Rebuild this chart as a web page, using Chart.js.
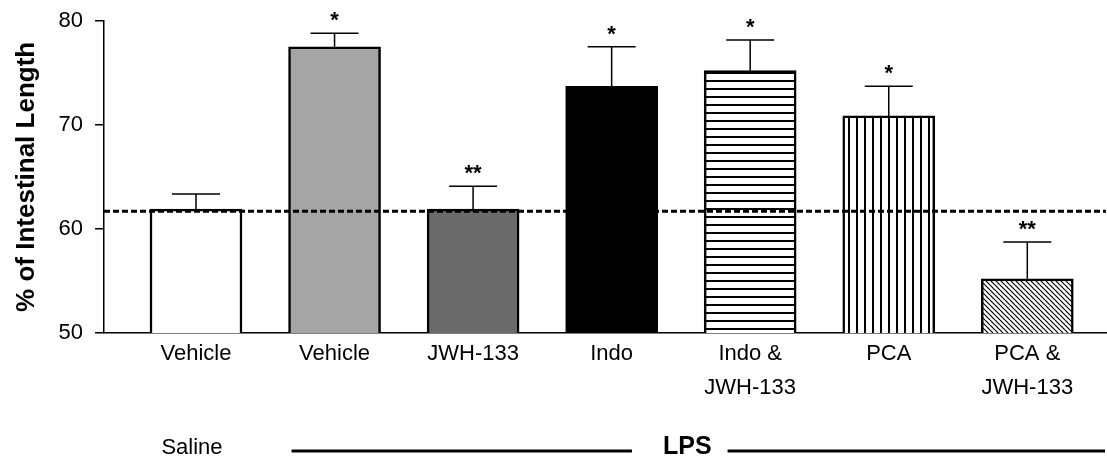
<!DOCTYPE html>
<html><head><meta charset="utf-8">
<script src="https://cdn.jsdelivr.net/npm/chart.js@4.4.0/dist/chart.umd.min.js"></script>
<style>html,body{margin:0;padding:0;background:#fff;} canvas{display:block;}</style>
</head><body>
<canvas id="c" width="1107" height="456"></canvas>
<script>
// ---- data ----
const categoryLines = [['Vehicle'], ['Vehicle'], ['JWH-133'], ['Indo'], ['Indo &', 'JWH-133'], ['PCA'], ['PCA &', 'JWH-133']];
const meanValues = [61.9, 77.5, 61.9, 73.7, 75.2, 70.85, 55.2];
const semValues = [1.45, 1.3, 2.2, 3.8, 2.95, 2.85, 3.55];
const significance = ['', '*', '**', '*', '*', '*', '**'];
const referenceLevel = [61.7];
const yTicks = [50, 60, 70, 80];
const groupLabels = ['Saline', 'LPS'];
const yTitle = '% of Intestinal Length';

const FONT = "'Liberation Sans', Arial, Helvetica, sans-serif";
Chart.defaults.color = '#000';
Chart.defaults.font.family = FONT;

function makePattern(kind) {
  const c = document.createElement('canvas');
  const ctx = c.getContext('2d');
  if (kind === 'h') {
    c.width = 8; c.height = 8;
    ctx.fillStyle = '#fff'; ctx.fillRect(0, 0, 8, 8);
    ctx.fillStyle = '#000'; ctx.fillRect(0, 0, 8, 2);
  } else if (kind === 'v') {
    c.width = 8; c.height = 8;
    ctx.fillStyle = '#fff'; ctx.fillRect(0, 0, 8, 8);
    ctx.fillStyle = '#000'; ctx.fillRect(0, 0, 2, 8);
  } else {
    const s = 5;
    c.width = s; c.height = s;
    ctx.fillStyle = '#fff'; ctx.fillRect(0, 0, s, s);
    ctx.strokeStyle = '#000'; ctx.lineWidth = 1.2;
    for (let k = -1; k <= 1; k++) {
      ctx.beginPath(); ctx.moveTo(0, k * s); ctx.lineTo(s, s + k * s); ctx.stroke();
    }
  }
  return c.getContext('2d').createPattern(c, 'repeat');
}
const fills = ['#ffffff', '#a5a5a5', '#6a6a6a', '#000000', makePattern('h'), makePattern('v'), makePattern('d')];

const overlay = {
  id: 'overlay',
  afterDatasetsDraw(chart) {
    const {ctx, chartArea, scales: {x, y}} = chart;
    ctx.save();
    // reference dashed line
    ctx.strokeStyle = '#000'; ctx.lineWidth = 3; ctx.setLineDash([6, 3]);
    const ry = y.getPixelForValue(referenceLevel[0]);
    ctx.beginPath(); ctx.moveTo(chartArea.left, ry); ctx.lineTo(chartArea.right, ry); ctx.stroke();
    ctx.setLineDash([]);
    // error bars + significance
    ctx.lineWidth = 1.5;
    ctx.font = 'bold 22px ' + FONT; ctx.textAlign = 'center'; ctx.textBaseline = 'alphabetic'; ctx.fillStyle = '#000';
    meanValues.forEach((m, i) => {
      const px = x.getPixelForValue(i);
      const yb = y.getPixelForValue(m);
      const yt = y.getPixelForValue(m + semValues[i]);
      ctx.beginPath(); ctx.moveTo(px, yb); ctx.lineTo(px, yt);
      ctx.moveTo(px - 24, yt); ctx.lineTo(px + 24, yt); ctx.stroke();
      if (significance[i]) ctx.fillText(significance[i], px, yt - 6);
    });
    ctx.restore();
  },
  afterDraw(chart) {
    const {ctx, chartArea, scales: {x}} = chart;
    ctx.save();
    ctx.fillStyle = '#000'; ctx.strokeStyle = '#000';
    ctx.textBaseline = 'alphabetic'; ctx.textAlign = 'center';
    ctx.font = '22px ' + FONT;
    ctx.fillText(groupLabels[0], x.getPixelForValue(0) - 4, 454);
    const start = x.getPixelForValue(1) - 43;
    const end = chartArea.right - 1;
    const cx = (start + end) / 2 - 11;
    ctx.font = 'bold 25px ' + FONT;
    const w = ctx.measureText(groupLabels[1]).width;
    ctx.fillText(groupLabels[1], cx, 454);
    ctx.lineWidth = 3;
    ctx.beginPath();
    ctx.moveTo(start, 451); ctx.lineTo(cx - w / 2 - 31, 451);
    ctx.moveTo(cx + w / 2 + 16, 451); ctx.lineTo(end, 451);
    ctx.stroke();
    ctx.restore();
  }
};

new Chart(document.getElementById('c'), {
  type: 'bar',
  data: {
    datasets: [{
      data: meanValues.map((v, i) => ({x: i, y: v})),
      backgroundColor: fills,
      borderColor: '#000',
      borderWidth: 2.5,
      barThickness: 92
    }]
  },
  options: {
    responsive: false,
    animation: false,
    devicePixelRatio: 1,
    layout: {padding: {top: 20.7, right: 1, bottom: 0, left: 0}},
    plugins: {legend: {display: false}, tooltip: {enabled: false}},
    scales: {
      x: {
        type: 'linear',
        offset: false,
        min: -0.664, max: 6.568,
        grid: {display: false, drawTicks: false, offset: false},
        border: {display: true, color: '#000', width: 1.5},
        afterBuildTicks: s => { s.ticks = categoryLines.map((_, i) => ({value: i})); },
        afterFit: s => { s.height = 123; s.paddingLeft = 0; s.paddingRight = 0; },
        ticks: {
          autoSkip: false, maxRotation: 0, padding: 4,
          font: {size: 22, lineHeight: 1.55},
          callback: v => categoryLines[v] || ''
        }
      },
      y: {
        min: 50, max: 80,
        afterBuildTicks: s => { s.ticks = yTicks.map(v => ({value: v})); },
        afterFit: s => { s.width = 104; s.paddingTop = 0; s.paddingBottom = 0; },
        grid: {display: true, drawOnChartArea: false, drawTicks: true, tickLength: 9, color: '#000', lineWidth: 1.5},
        border: {display: true, color: '#000', width: 1.5},
        ticks: {font: {size: 22}, padding: 12},
        title: {display: true, text: yTitle, font: {size: 26, weight: 'bold'}, padding: {top: 11, bottom: 0}}
      }
    }
  },
  plugins: [overlay]
});
</script>
</body></html>
